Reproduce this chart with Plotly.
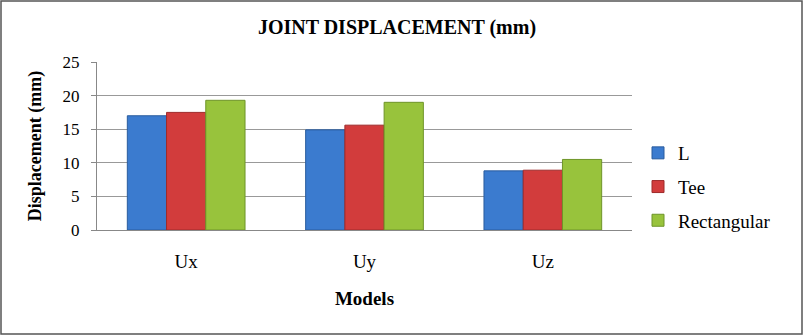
import plotly.graph_objects as go

categories = ["Ux", "Uy", "Uz"]
series_names = ["L", "Tee", "Rectangular"]
L_vals = [17.0, 14.9, 8.8]
Tee_vals = [17.5, 15.6, 8.9]
Rect_vals = [19.3, 19.0, 10.5]
y_ticks = [0, 5, 10, 15, 20, 25]

colors = ["#3b7bcf", "#d23c3c", "#98c33c"]
edges = ["#2a5c9e", "#9e2a2a", "#6e9428"]

W, H = 804, 336
ml, mr, mt, mb = 97, 172, 62, 106
SERIF = "Liberation Serif"

fig = go.Figure()
for name, vals, c, e in zip(series_names, [L_vals, Tee_vals, Rect_vals], colors, edges):
    fig.add_trace(go.Bar(x=categories, y=vals, name=name, legendgroup=name,
                         marker=dict(color=c, line=dict(color=e, width=1))))

pw = W - ml - mr
ph = H - mt - mb
fig.add_shape(type="rect", xref="paper", yref="paper",
              x0=-(ml - 1) / pw, x1=1 + (mr - 2) / pw,
              y0=-(mb - 2) / ph, y1=1 + (mt - 1) / ph,
              line=dict(color="#555555", width=1.5), fillcolor="rgba(0,0,0,0)", layer="below")

fig.update_layout(
    width=W, height=H,
    margin=dict(l=ml, r=mr, t=mt, b=mb, pad=0),
    paper_bgcolor="white", plot_bgcolor="white",
    font=dict(family=SERIF, color="black", size=17),
    title=dict(text="<b>JOINT DISPLACEMENT (mm)</b>", x=397 / W, xanchor="center",
               xref="container", y=1 - 27 / H, yanchor="middle",
               font=dict(size=20, family=SERIF)),
    barmode="group", bargap=0.34, bargroupgap=0.0,
    xaxis=dict(showline=True, linecolor="#888888", linewidth=1, ticks="",
               tickfont=dict(size=19, family=SERIF), ticklabelstandoff=14,
               title=dict(text="<b>Models</b>", font=dict(size=19, family=SERIF), standoff=20)),
    yaxis=dict(range=[0, 25], tickvals=y_ticks, showgrid=True, gridcolor="#999999", gridwidth=1,
               showline=True, linecolor="#888888", ticks="outside", ticklen=5, tickcolor="#888888",
               tickfont=dict(size=17, family=SERIF), zeroline=False, ticklabelstandoff=8,
               title=dict(text="<b>Displacement (mm)</b>", font=dict(size=18, family=SERIF), standoff=16)),
    legend=dict(x=1.0 + 6 / pw, y=(230 - 187) / ph, xanchor="left", yanchor="middle",
                font=dict(size=19, family=SERIF), itemwidth=30, tracegroupgap=6,
                bgcolor="rgba(0,0,0,0)"),
    showlegend=True,
)

fig.write_html("out.html")
